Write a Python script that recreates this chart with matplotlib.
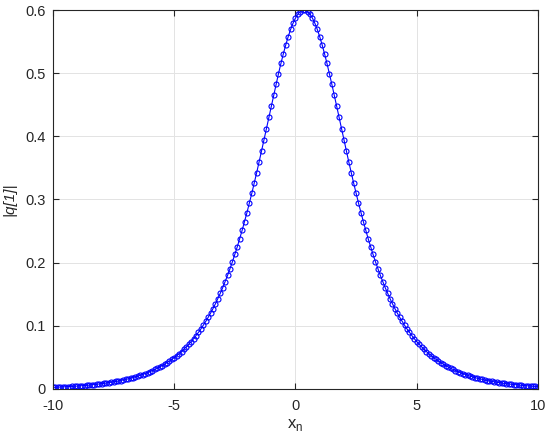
import matplotlib
matplotlib.use("Agg")
import matplotlib.pyplot as plt
import numpy as np

# sample grid x_n = -10 ... 10, step 0.1
x_n = np.linspace(-10, 10, 201)

# |q[1]| (left tail -> peak -> right tail)
q1_abs = [
    0.0025, 0.0027, 0.0029, 0.0030, 0.0032, 0.0034, 0.0036, 0.0039, 0.0041, 0.0043,
    0.0046, 0.0049, 0.0052, 0.0055, 0.0058, 0.0062, 0.0066, 0.0070, 0.0074, 0.0079,
    0.0083, 0.0089, 0.0094, 0.0100, 0.0106, 0.0112, 0.0119, 0.0127, 0.0134, 0.0143,
    0.0151, 0.0161, 0.0170, 0.0181, 0.0192, 0.0204, 0.0216, 0.0229, 0.0243, 0.0258,
    0.0274, 0.0291, 0.0309, 0.0328, 0.0348, 0.0369, 0.0392, 0.0416, 0.0441, 0.0468,
    0.0497, 0.0527, 0.0559, 0.0593, 0.0629, 0.0668, 0.0708, 0.0751, 0.0797, 0.0846,
    0.0897, 0.0951, 0.1009, 0.1070, 0.1134, 0.1202, 0.1274, 0.1350, 0.1431, 0.1516,
    0.1605, 0.1700, 0.1799, 0.1904, 0.2014, 0.2130, 0.2251, 0.2378, 0.2511, 0.2650,
    0.2794, 0.2944, 0.3099, 0.3260, 0.3425, 0.3594, 0.3767, 0.3943, 0.4120, 0.4299,
    0.4477, 0.4653, 0.4825, 0.4993, 0.5154, 0.5307, 0.5448, 0.5578, 0.5693, 0.5791,
    0.5872, 0.5934, 0.5976, 0.5997,
    0.5997, 0.5976, 0.5934, 0.5872, 0.5791, 0.5693, 0.5578, 0.5448, 0.5307, 0.5154,
    0.4993, 0.4825, 0.4653, 0.4477, 0.4299, 0.4120, 0.3943, 0.3767, 0.3594, 0.3425,
    0.3260, 0.3099, 0.2944, 0.2794, 0.2650, 0.2511, 0.2378, 0.2251, 0.2130, 0.2014,
    0.1904, 0.1799, 0.1700, 0.1605, 0.1516, 0.1431, 0.1350, 0.1274, 0.1202, 0.1134,
    0.1070, 0.1009, 0.0951, 0.0897, 0.0846, 0.0797, 0.0751, 0.0708, 0.0668, 0.0629,
    0.0593, 0.0559, 0.0527, 0.0497, 0.0468, 0.0441, 0.0416, 0.0392, 0.0369, 0.0348,
    0.0328, 0.0309, 0.0291, 0.0274, 0.0258, 0.0243, 0.0229, 0.0216, 0.0204, 0.0192,
    0.0181, 0.0170, 0.0161, 0.0151, 0.0143, 0.0134, 0.0127, 0.0119, 0.0112, 0.0106,
    0.0100, 0.0094, 0.0089, 0.0083, 0.0079, 0.0074, 0.0070, 0.0066, 0.0062,
    0.0058, 0.0055, 0.0052, 0.0049, 0.0046, 0.0043, 0.0041, 0.0039,
]

x_ticks = [-10, -5, 0, 5, 10]
y_ticks = [0, 0.1, 0.2, 0.3, 0.4, 0.5, 0.6]

plt.rcParams["font.family"] = ["Liberation Sans", "DejaVu Sans"]

fig = plt.figure(figsize=(5.5, 4.47), dpi=100)
ax = fig.add_axes([0.0964, 0.1298, 0.8816, 0.8478])

ax.plot(x_n, q1_abs, color="blue", linewidth=0.8, marker="o", markersize=3.6,
        markerfacecolor="none", markeredgecolor="blue", markeredgewidth=0.8)

ax.set_xlim(-10, 10)
ax.set_ylim(0, 0.6)
ax.set_xticks(x_ticks)
ax.set_yticks(y_ticks)
ax.set_xticklabels([str(t) for t in x_ticks])
ax.set_yticklabels(["0", "0.1", "0.2", "0.3", "0.4", "0.5", "0.6"])

ax.grid(True, color="#e3e3e3", linewidth=0.7)
ax.set_axisbelow(True)
for s in ax.spines.values():
    s.set_color("#262626")
    s.set_linewidth(0.8)
ax.tick_params(direction="in", length=4, width=0.8, colors="#262626",
               labelsize=10.5, top=True, right=True)
ax.tick_params(axis="x", pad=7)
ax.tick_params(axis="y", pad=5)

ax.set_xlabel("x$_\\mathregular{n}$", fontsize=12, color="#262626", labelpad=3)
ax.set_ylabel("|q[1]|", fontsize=11, color="#262626", style="italic", labelpad=7)

plt.savefig("out.png", dpi=100)
